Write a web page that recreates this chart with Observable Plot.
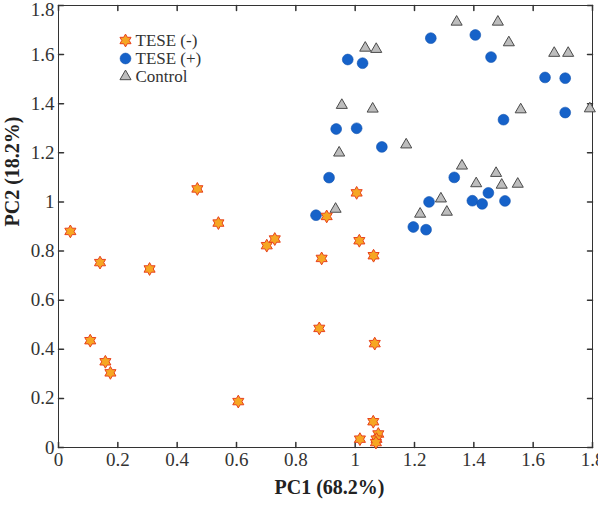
<!DOCTYPE html>
<html><head><meta charset="utf-8">
<script src="https://cdn.jsdelivr.net/npm/d3@7"></script>
<script src="https://cdn.jsdelivr.net/npm/@observablehq/plot@0.6"></script>
<style>
body{margin:0;background:#fff;}
#chart{width:598px;height:505px;}
#chart svg, #chart svg text{font-family:"Liberation Serif","Times New Roman",serif !important;}
</style>
</head><body><div id="chart"></div>
<script>
const xTicks = [0, 0.2, 0.4, 0.6, 0.8, 1, 1.2, 1.4, 1.6, 1.8];
const xTickLabels = ["0", "0.2", "0.4", "0.6", "0.8", "1", "1.2", "1.4", "1.6", "1.8"];
const yTicks = [0, 0.2, 0.4, 0.6, 0.8, 1, 1.2, 1.4, 1.6, 1.8];
const yTickLabels = ["0", "0.2", "0.4", "0.6", "0.8", "1", "1.2", "1.4", "1.6", "1.8"];
const xTitle = "PC1 (68.2%)";
const yTitle = "PC2 (18.2%)";
const seriesNames = ["TESE (-)", "TESE (+)", "Control"];

const teseNegX = [0.04, 0.14, 0.107, 0.158, 0.175, 0.307, 0.468, 0.539, 0.606, 0.702, 0.729, 0.887, 0.879, 0.904, 1.005, 1.014, 1.062, 1.066, 1.061, 1.016, 1.078, 1.072, 1.07];
const teseNegY = [0.88, 0.753, 0.435, 0.349, 0.304, 0.727, 1.053, 0.914, 0.187, 0.822, 0.849, 0.77, 0.485, 0.941, 1.037, 0.842, 0.781, 0.423, 0.105, 0.034, 0.055, 0.034, 0.02];

const tesePosX = [0.975, 1.025, 1.255, 1.405, 1.458, 1.64, 1.708, 1.708, 1.50, 0.936, 1.005, 1.09, 0.912, 1.334, 0.868, 1.249, 1.196, 1.239, 1.395, 1.428, 1.449, 1.505];
const tesePosY = [1.58, 1.565, 1.667, 1.68, 1.59, 1.507, 1.504, 1.364, 1.335, 1.297, 1.30, 1.224, 1.099, 1.10, 0.946, 1.0, 0.898, 0.887, 1.005, 0.992, 1.037, 1.004];

const controlX = [1.034, 1.071, 1.342, 1.481, 1.518, 1.671, 1.718, 1.791, 1.558, 0.955, 1.059, 0.946, 1.172, 1.36, 1.475, 1.408, 1.494, 1.548, 1.289, 1.219, 1.309, 0.934];
const controlY = [1.627, 1.622, 1.733, 1.733, 1.649, 1.606, 1.606, 1.38, 1.376, 1.394, 1.379, 1.20, 1.233, 1.147, 1.117, 1.075, 1.069, 1.073, 1.013, 0.951, 0.959, 0.971];

const zip = (xs, ys) => xs.map((x, i) => ({x, y: ys[i]}));
const teseNeg = zip(teseNegX, teseNegY);
const tesePos = zip(tesePosX, tesePosY);
const control = zip(controlX, controlY);

const hexagram = {draw(ctx, size) {
  const R = Math.sqrt(size / Math.PI), r = R / Math.sqrt(3);
  for (let i = 0; i < 12; i++) {
    const a = -Math.PI / 2 + i * Math.PI / 6, rr = i % 2 ? r : R;
    const px = rr * Math.cos(a), py = rr * Math.sin(a);
    if (i === 0) ctx.moveTo(px, py); else ctx.lineTo(px, py);
  }
  ctx.closePath();
}};
const tri = {draw(ctx, size) {
  const R = Math.sqrt(size / Math.PI);
  ctx.moveTo(0, -R);
  ctx.lineTo(R * 0.866, R * 0.5);
  ctx.lineTo(-R * 0.866, R * 0.5);
  ctx.closePath();
}};
const tickShape = {draw(ctx, l) { ctx.moveTo(0, 0); ctx.lineTo(0, -l); }};

const FONT = "Liberation Serif";
const styles = [
  {symbol: hexagram, r: 6.4, fill: "#f6a623", stroke: "#e8401c", strokeWidth: 1},
  {symbol: "circle", r: 5.4, fill: "#1662c9", stroke: "#0f52b0", strokeWidth: 0.6},
  {symbol: tri, r: 6.4, fill: "#bdbdbd", stroke: "#4a4a4a", strokeWidth: 1}
];

const xLab = new Map(xTicks.map((t, i) => [t, xTickLabels[i]]));
const yLab = new Map(yTicks.map((t, i) => [t, yTickLabels[i]]));
const axisColor = "#333";
const yTop = yTicks[yTicks.length - 1];

const legendMarks = seriesNames.flatMap((name, i) => [
  Plot.dot([name], {frameAnchor: "top-left", dx: 67, dy: 35 + i * 18, ...styles[i]}),
  Plot.text([name], {frameAnchor: "top-left", dx: 77, dy: 35 + i * 18, text: d => d, textAnchor: "start", lineAnchor: "middle", fontSize: 17, fontFamily: FONT, fill: "#333"})
]);

const chart = Plot.plot({
  width: 598, height: 505,
  marginLeft: 58, marginRight: 6, marginTop: 5, marginBottom: 58,
  style: {fontFamily: FONT, background: "#fff", color: "#333", overflow: "visible"},
  x: {domain: [0, 1.8]},
  y: {domain: [0, 1.8]},
  marks: [
    Plot.axisX({ticks: xTicks, tickSize: 0, tickPadding: 5, tickFormat: d => xLab.get(d), fontSize: 19, fontFamily: FONT, fill: "#333", label: null}),
    Plot.axisY({ticks: yTicks.filter(t => t !== yTop), tickSize: 0, tickPadding: 4, tickFormat: d => yLab.get(d), fontSize: 19, fontFamily: FONT, fill: "#333", label: null}),
    Plot.axisY({ticks: [yTop], tickSize: 0, tickPadding: 4, dy: 4, tickFormat: d => yLab.get(d), fontSize: 19, fontFamily: FONT, fill: "#333", label: null}),
    Plot.vector(xTicks, {x: d => d, frameAnchor: "bottom", length: 5, rotate: 0, anchor: "start", shape: tickShape, stroke: axisColor}),
    Plot.vector(xTicks, {x: d => d, frameAnchor: "top", length: 5, rotate: 180, anchor: "start", shape: tickShape, stroke: axisColor}),
    Plot.vector(yTicks, {y: d => d, frameAnchor: "left", length: 5, rotate: 90, anchor: "start", shape: tickShape, stroke: axisColor}),
    Plot.vector(yTicks, {y: d => d, frameAnchor: "right", length: 5, rotate: -90, anchor: "start", shape: tickShape, stroke: axisColor}),
    Plot.frame({stroke: axisColor, strokeWidth: 1}),
    Plot.dot(control, {x: "x", y: "y", ...styles[2]}),
    Plot.dot(tesePos, {x: "x", y: "y", ...styles[1]}),
    Plot.dot(teseNeg, {x: "x", y: "y", ...styles[0]}),
    ...legendMarks,
    Plot.text([xTitle], {frameAnchor: "bottom", dx: 4, dy: 46, text: d => d, fontSize: 20, fontFamily: FONT, fontWeight: "bold", fill: "#222"}),
    Plot.text([yTitle], {frameAnchor: "left", dx: -46, rotate: -90, text: d => d, fontSize: 20, fontFamily: FONT, fontWeight: "bold", fill: "#222"})
  ]
});
document.getElementById("chart").appendChild(chart);
</script>
</body></html>
